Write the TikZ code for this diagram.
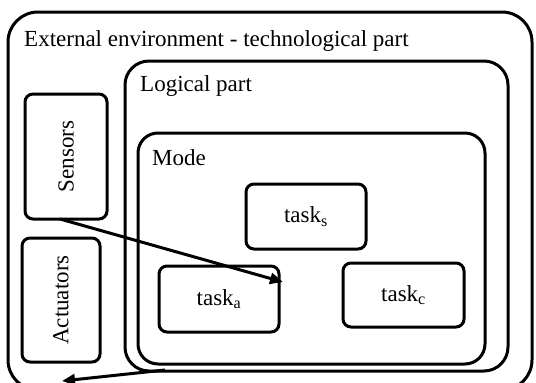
\documentclass[tikz,border=0pt]{standalone}
\usepackage{fontspec}
\setmainfont{Liberation Serif}
\usetikzlibrary{arrows.meta}
\begin{document}
\begin{tikzpicture}[x=1pt,y=-1pt,
  frame/.style={draw=black, line width=3pt, inner sep=0pt, outer sep=0pt},
  bigbox/.style={frame, rounded corners=#1},
  smallbox/.style={frame, rounded corners=8pt},
  lbl/.style={inner sep=0pt, font=\fontsize{23}{27}\selectfont},
  arr/.style={line width=3pt, -{Triangle[length=13pt,width=11pt]}}]
\useasboundingbox (0,0) rectangle (536,383);
\fill[white] (0,0) rectangle (536,383);
% containers
\node (outer) [bigbox=30pt, minimum width=524pt, minimum height=378pt] at (270,201) {};
\node (logical) [bigbox=24pt, minimum width=383pt, minimum height=310pt] at (316.5,216) {};
\node (mode) [bigbox=20pt, minimum width=347pt, minimum height=231pt] at (311.5,248.5) {};
% labels of containers
\node (outerlbl) [lbl, anchor=west] at (24,41) {External environment - technological part};
\node (logicallbl) [lbl, anchor=west] at (140,86) {Logical part};
\node (modelbl) [lbl, anchor=west] at (152,158) {Mode};
% side boxes
\node (sensors) [smallbox, minimum width=82pt, minimum height=125pt] at (66,156.5) {};
\node (sensorslbl) [lbl, rotate=90] at (sensors.center) {Sensors};
\node (actuators) [smallbox, minimum width=78pt, minimum height=124pt] at (61,300) {};
\node (actuatorslbl) [lbl, rotate=90] at (actuators.center) {Actuators};
% tasks
\node (tasks) [smallbox, lbl, minimum width=120pt, minimum height=65pt] at (306,216.5) {task\textsubscript{s}};
\node (taska) [smallbox, lbl, minimum width=120pt, minimum height=66pt] at (219,299) {task\textsubscript{a}};
\node (taskc) [smallbox, lbl, minimum width=121pt, minimum height=64pt] at (403.5,295) {task\textsubscript{c}};
% connectors
\coordinate (actout) at (62,381);
\draw[arr] ([xshift=-6pt]sensors.south) -- ([xshift=4pt,yshift=-16pt]taska.north east);
\draw[arr] ([xshift=40pt,yshift=1pt]logical.south west) -- (actout);
\end{tikzpicture}
\end{document}
